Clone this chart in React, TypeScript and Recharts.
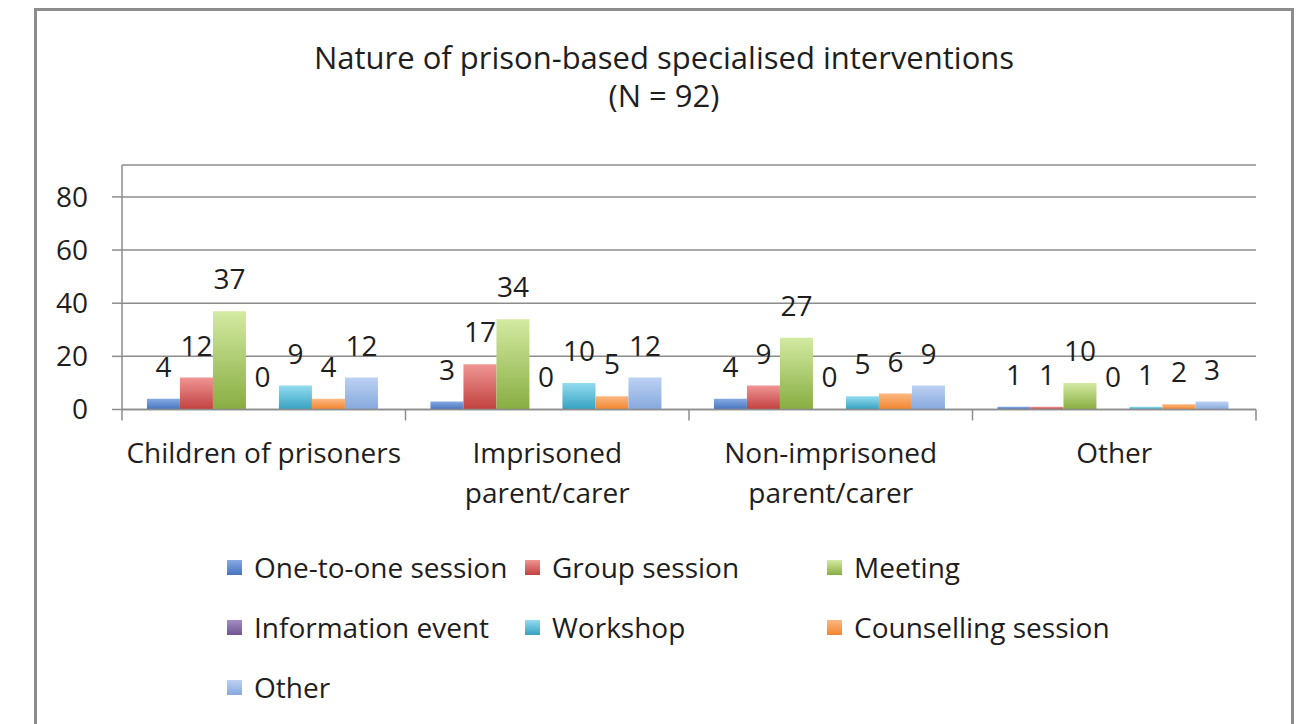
import React from 'react';
import { BarChart, Bar, XAxis, YAxis, CartesianGrid, LabelList, Legend } from 'recharts';

const categories = ['Children of prisoners', 'Imprisoned parent/carer', 'Non-imprisoned parent/carer', 'Other'];
const seriesNames = [
  'One-to-one session',
  'Group session',
  'Meeting',
  'Information event',
  'Workshop',
  'Counselling session',
  'Other',
];
const oneToOne = [4, 3, 4, 1];
const groupSession = [12, 17, 9, 1];
const meeting = [37, 34, 27, 10];
const informationEvent = [0, 0, 0, 0];
const workshop = [9, 10, 5, 1];
const counselling = [4, 5, 6, 2];
const otherType = [12, 12, 9, 3];
const yTicks = [0, 20, 40, 60, 80];

const FONT = '"Open Sans", "DejaVu Sans", sans-serif';
const AXIS_GRAY = '#8c8c8c';
const TEXT = '#1e1e1e';

// top / bottom of each bar gradient, in series order
const SERIES_STYLE = [
  { top: '#86a9e2', bottom: '#4675bd' },
  { top: '#ef9594', bottom: '#c1413f' },
  { top: '#d3eaa2', bottom: '#88ad41' },
  { top: '#a58dc4', bottom: '#6f5592' },
  { top: '#93dcf0', bottom: '#36a1c0' },
  { top: '#fcb882', bottom: '#f1852f' },
  { top: '#bcd1f2', bottom: '#86a8dd' },
];

const seriesValues = [oneToOne, groupSession, meeting, informationEvent, workshop, counselling, otherType];

const data = categories.map((name, i) => {
  const row: Record<string, string | number> = { name };
  seriesValues.forEach((vals, s) => {
    row[`s${s}`] = vals[i];
  });
  return row;
});

const wrapLabel = (text: string): string[] => {
  if (text.length <= 21) return [text];
  const cut = text.lastIndexOf(' ');
  return [text.slice(0, cut), text.slice(cut + 1)];
};

const CategoryTick = (props: any) => {
  const { x, y, payload, index, visibleTicksCount } = props;
  const half = payload.offset || 141.75;
  const lines = wrapLabel(String(payload.value));
  const isLast = index === visibleTicksCount - 1;
  return (
    <g>
      <line x1={x - half} x2={x - half} y1={y} y2={y + 11} stroke={AXIS_GRAY} strokeWidth={1.5} />
      {isLast && <line x1={x + half} x2={x + half} y1={y} y2={y + 11} stroke={AXIS_GRAY} strokeWidth={1.5} />}
      <text x={x} y={y} textAnchor="middle" fill={TEXT} fontSize={28} fontFamily={FONT}>
        {lines.map((line, i) => (
          <tspan key={i} x={x} y={y + 53 + i * 40}>
            {line}
          </tspan>
        ))}
      </text>
    </g>
  );
};

const LEGEND_COLS = [227, 525, 827];
const LEGEND_ROWS = [567, 627, 687];

const renderLegend = () => (
  <div style={{ position: 'relative', width: 1297, height: 200 }}>
    {seriesNames.map((name, i) => {
      const col = i % 3;
      const row = Math.floor(i / 3);
      const st = SERIES_STYLE[i];
      return (
        <div
          key={name + i}
          style={{
            position: 'absolute',
            left: LEGEND_COLS[col],
            top: LEGEND_ROWS[row] - 540 - 18,
            height: 36,
            display: 'flex',
            alignItems: 'center',
            whiteSpace: 'nowrap',
            fontFamily: FONT,
            fontSize: 28,
            color: TEXT,
          }}
        >
          <span
            style={{
              display: 'inline-block',
              width: 15,
              height: 15,
              marginRight: 12,
              background: `linear-gradient(${st.top}, ${st.bottom})`,
            }}
          />
          {name}
        </div>
      );
    })}
  </div>
);

export default function App() {
  return (
    <div>
      <div
        style={{
          position: 'absolute',
          left: 34,
          top: 8,
          width: 1260,
          height: 730,
          border: `3px solid ${AXIS_GRAY}`,
          boxSizing: 'border-box',
          background: '#fff',
        }}
      />
      <div
        style={{
          position: 'absolute',
          left: 34,
          top: 38,
          width: 1260,
          textAlign: 'center',
          fontFamily: FONT,
          fontSize: 31,
          lineHeight: '38px',
          color: TEXT,
        }}
      >
        Nature of prison-based specialised interventions
        <br />
        (N = 92)
      </div>
      <div style={{ position: 'absolute', left: 0, top: 0 }}>
        <BarChart
          width={1297}
          height={724}
          data={data}
          margin={{ top: 165, right: 41, bottom: 284.5, left: 62 }}
          barCategoryGap="8.8%"
          barGap={0}
        >
          <defs>
            {SERIES_STYLE.map((st, i) => (
              <linearGradient key={i} id={`grad${i}`} x1="0" y1="0" x2="0" y2="1">
                <stop offset="0%" stopColor={st.top} />
                <stop offset="100%" stopColor={st.bottom} />
              </linearGradient>
            ))}
          </defs>
          <CartesianGrid vertical={false} stroke={AXIS_GRAY} strokeWidth={1.5} />
          <XAxis
            dataKey="name"
            height={30}
            tickSize={0}
            tickMargin={0}
            axisLine={{ stroke: AXIS_GRAY, strokeWidth: 1.5 }}
            tick={<CategoryTick />}
            interval={0}
          />
          <YAxis
            width={60}
            domain={[0, 92]}
            ticks={yTicks}
            allowDataOverflow
            tickSize={10}
            tickMargin={24}
            axisLine={{ stroke: AXIS_GRAY, strokeWidth: 1.5 }}
            tickLine={{ stroke: AXIS_GRAY, strokeWidth: 1.5 }}
            tick={{ fill: TEXT, fontSize: 28, fontFamily: FONT }}
          />
          <Legend
            layout="horizontal"
            verticalAlign="middle"
            align="center"
            content={renderLegend}
            wrapperStyle={{ top: 540, left: 0, width: 1297, height: 200 }}
          />
          {seriesNames.map((name, i) => (
            <Bar
              key={i}
              dataKey={`s${i}`}
              name={name}
              fill={`url(#grad${i})`}
              minPointSize={0.01}
              isAnimationActive={false}
            >
              <LabelList
                dataKey={`s${i}`}
                position="top"
                offset={22}
                fill={TEXT}
                fontSize={28}
                fontFamily={FONT}
              />
            </Bar>
          ))}
        </BarChart>
      </div>
    </div>
  );
}
